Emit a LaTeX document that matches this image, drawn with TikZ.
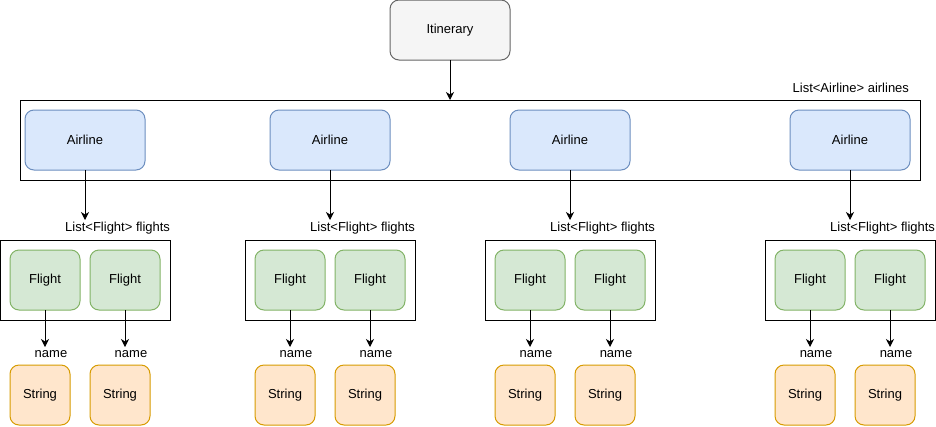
\documentclass[tikz,border=0pt]{standalone}
\usepackage{fontspec}
\setmainfont{Liberation Sans}
\usetikzlibrary{arrows.meta}
\definecolor{grayfill}{HTML}{F5F5F5}
\definecolor{graydraw}{HTML}{666666}
\definecolor{bluefill}{HTML}{DAE8FC}
\definecolor{bluedraw}{HTML}{6C8EBF}
\definecolor{greenfill}{HTML}{D5E8D4}
\definecolor{greendraw}{HTML}{82B366}
\definecolor{orangefill}{HTML}{FFE6CC}
\definecolor{orangedraw}{HTML}{D79B00}
\begin{document}
\begin{tikzpicture}[x=1pt,y=-1pt, line width=1pt,
 every node/.style={font=\fontsize{13}{15}\selectfont, inner sep=0pt, outer sep=0pt},
 rbox/.style={draw, rounded corners=9pt, minimum height=60pt},
 itin/.style={rbox, fill=grayfill, draw=graydraw, minimum width=120pt},
 airline/.style={rbox, fill=bluefill, draw=bluedraw, minimum width=120pt},
 flight/.style={rbox, fill=greenfill, draw=greendraw, minimum width=70pt},
 strbox/.style={rbox, fill=orangefill, draw=orangedraw, minimum width=60pt},
 container/.style={draw, minimum height=80pt},
 lbl/.style={anchor=east},
 arr/.style={-{Stealth[length=8pt,width=8pt,inset=2.5pt]}}
]
\useasboundingbox (0,0) rectangle (936,426);
\node[itin] (itin) at (450,30) {Itinerary};
\node[container, minimum width=900pt] (airlines) at (470,140) {};
\node[lbl] (airlineslbl) at (909,88) {List<Airline> airlines};
\draw[arr] (itin.south) -- (itin.south |- airlines.north);

\foreach \c/\i in {85/1,330/2,570/3,850/4}{
  \node[airline] (air\i) at (\c,140) {Airline};
  \node[container, minimum width=170pt] (fl\i) at (\c,280) {};
  \coordinate (ae\i) at (\c,220);
  \node[lbl] (fllbl\i) at (\c+85,228) {List<Flight> flights};
  \draw[arr] (air\i.south) -- (ae\i);
  \node[flight] (fa\i) at (\c-40,280) {Flight};
  \node[flight] (fb\i) at (\c+40,280) {Flight};
  \node[strbox] (sa\i) at (\c-45,395) {String};
  \node[strbox] (sb\i) at (\c+35,395) {String};
  \coordinate (ea\i) at (\c-40,347);
  \coordinate (eb\i) at (\c+40,347);
  \draw[arr] (fa\i.south) -- (ea\i);
  \draw[arr] (fb\i.south) -- (eb\i);
  \node (na\i) at (\c-34,354) {name};
  \node (nb\i) at (\c+46,354) {name};
}
\end{tikzpicture}
\end{document}
